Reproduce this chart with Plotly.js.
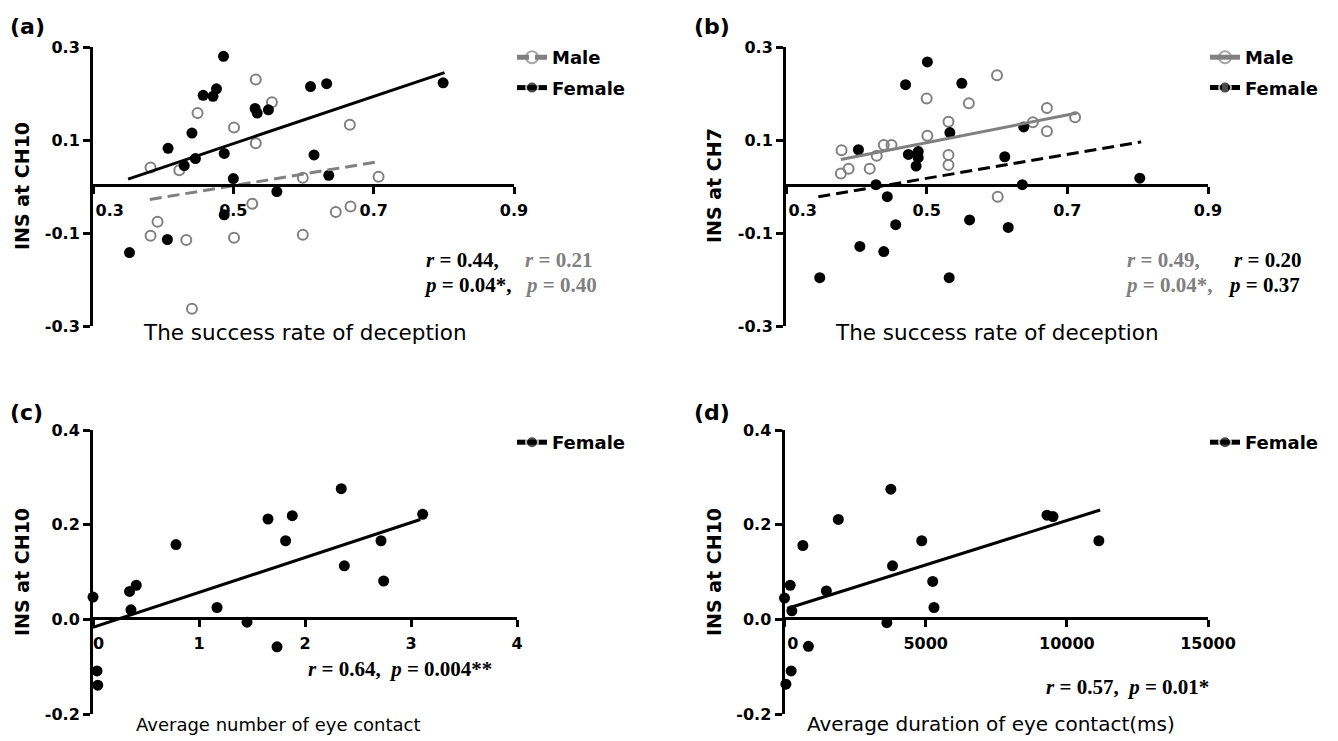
<!DOCTYPE html>
<html>
<head>
<meta charset="utf-8">
<script src="https://cdn.plot.ly/plotly-3.0.1.min.js"></script>
<style>html,body{margin:0;padding:0;background:#fff;}#chart{width:1338px;height:741px;}</style>
</head>
<body>
<div id="chart"></div>
<script>
// ---------- data ----------
// panel (a): success rate of deception vs INS at CH10
const aMaleX   = [0.532,0.555,0.449,0.501,0.666,0.532,0.382,0.423,0.599,0.707,0.527,0.392,0.667,0.646,0.382,0.433,0.501,0.599,0.441];
const aMaleY   = [0.230,0.181,0.158,0.127,0.133,0.093,0.041,0.035,0.019,0.021,-0.037,-0.076,-0.043,-0.055,-0.106,-0.115,-0.110,-0.104,-0.263];
const aFemaleX = [0.486,0.799,0.610,0.633,0.457,0.471,0.476,0.531,0.534,0.550,0.441,0.407,0.487,0.615,0.446,0.430,0.500,0.636,0.562,0.487,0.406,0.352];
const aFemaleY = [0.280,0.223,0.215,0.221,0.196,0.194,0.210,0.168,0.158,0.165,0.115,0.082,0.071,0.068,0.060,0.045,0.017,0.024,-0.011,-0.061,-0.114,-0.142];
const aFitMaleX = [0.381,0.709];
const aFitMaleY = [-0.028,0.054];
const aFitFemaleX = [0.350,0.801];
const aFitFemaleY = [0.016,0.245];

// panel (b): success rate of deception vs INS at CH7
const bMaleX   = [0.600,0.500,0.560,0.671,0.711,0.531,0.651,0.671,0.501,0.379,0.439,0.450,0.429,0.531,0.531,0.389,0.419,0.378,0.601];
const bMaleY   = [0.239,0.189,0.179,0.169,0.149,0.139,0.138,0.119,0.109,0.078,0.089,0.089,0.066,0.068,0.046,0.038,0.038,0.028,-0.022];
const bFemaleX = [0.501,0.470,0.550,0.533,0.638,0.403,0.474,0.488,0.488,0.485,0.611,0.428,0.636,0.803,0.444,0.456,0.561,0.616,0.405,0.439,0.348,0.532];
const bFemaleY = [0.268,0.219,0.222,0.116,0.128,0.079,0.069,0.075,0.062,0.044,0.064,0.004,0.004,0.018,-0.022,-0.082,-0.072,-0.088,-0.129,-0.140,-0.196,-0.196];
const bFitMaleX = [0.378,0.714];
const bFitMaleY = [0.058,0.158];
const bFitFemaleX = [0.346,0.805];
const bFitFemaleY = [-0.022,0.096];

// panel (c): average number of eye contact vs INS at CH10 (female)
const cX = [0.000,0.358,0.345,0.408,0.783,1.170,1.453,1.651,1.817,1.880,1.736,2.342,2.371,2.717,2.742,3.110,0.038,0.045];
const cY = [0.047,0.020,0.059,0.072,0.158,0.025,-0.006,0.212,0.166,0.219,-0.058,0.276,0.113,0.166,0.081,0.222,-0.109,-0.139];
const cFitX = [0,3.088];
const cFitY = [-0.017,0.211];

// panel (d): average duration of eye contact (ms) vs INS at CH10 (female)
const dX = [0,201,261,650,847,236,50,1483,1906,3766,3826,3625,4861,5249,5295,9298,9510,11134];
const dY = [0.045,0.072,0.018,0.156,-0.057,-0.109,-0.137,0.060,0.211,0.275,0.113,-0.007,0.166,0.080,0.025,0.220,0.217,0.166];
const dFitX = [95,11180];
const dFitY = [0.023,0.231];

// tick labels
const abXTicks = [0.3,0.5,0.7,0.9];
const abXLabels = ['0.3','0.5','0.7','0.9'];
const abYTicks = [-0.3,-0.1,0.1,0.3];
const abYLabels = ['-0.3','-0.1','0.1','0.3'];
const cXTicks = [0,1,2,3,4];
const cXLabels = ['0','1','2','3','4'];
const dXTicks = [0,5000,10000,15000];
const dXLabels = ['0','5000','10000','15000'];
const cdYTicks = [-0.2,0,0.2,0.4];
const cdYLabels = ['-0.2','0.0','0.2','0.4'];

// ---------- styling helpers ----------
const W = 1338, H = 741;
const GRAY = '#808080';
const px = v => v / W;
const py = v => 1 - v / H;
const NB = '\u00A0';

const tickFont = {family:'DejaVu Sans', size:16, color:'#000', weight:'bold'};
function xAxis(d0, d1, range, zeroPy, vals, labels, pad) {
  const lab = labels.slice();
  lab[0] = NB.repeat(pad) + lab[0];
  return {domain:[px(d0), px(d1)], range:range, anchor:'free', position:py(zeroPy),
    showline:true, linewidth:3, linecolor:'#000', ticks:'outside', ticklen:7, tickwidth:3,
    tickcolor:'#000', tickmode:'array', tickvals:vals, ticktext:lab, tickfont:tickFont,
    ticklabelstandoff:3, showgrid:false, zeroline:false, fixedrange:true};
}
function yAxis(anchor, t, b, range, vals, labels) {
  return {domain:[py(b), py(t)], range:range, anchor:anchor,
    showline:true, linewidth:3, linecolor:'#000', ticks:'outside', ticklen:7, tickwidth:3,
    tickcolor:'#000', tickmode:'array', tickvals:vals, ticktext:labels, tickfont:tickFont,
    showgrid:false, zeroline:false, fixedrange:true};
}

function pts(x, y, xa, ya, open) {
  return {x:x, y:y, xaxis:xa, yaxis:ya, type:'scatter', mode:'markers', showlegend:false,
    cliponaxis:false, hoverinfo:'x+y',
    marker: open ? {symbol:'circle-open', size:10, color:GRAY, line:{width:2, color:GRAY}}
                 : {symbol:'circle', size:11, color:'#000'}};
}
// fitted line; the tiny marker sizes keep markers off the plot but let the legend show them
function fit(x, y, xa, ya, name, color, dash, open, legend, group) {
  return {x:x, y:y, xaxis:xa, yaxis:ya, type:'scatter', mode:'lines+markers', name:name,
    legend:legend, legendgroup:group, cliponaxis:false, hoverinfo:'skip',
    line:{color:color, width:3, dash:dash},
    marker: open ? {symbol:'circle-open', size:[0.01,0.01], color:color, line:{width:2, color:color}}
                 : {symbol:'circle', size:[0.01,0.01], color:color}};
}

const traces = [
  pts(aMaleX, aMaleY, 'x', 'y', true),
  pts(aFemaleX, aFemaleY, 'x', 'y', false),
  fit(aFitMaleX, aFitMaleY, 'x', 'y', 'Male', GRAY, '12px,6px', true, 'legend', 'am'),
  fit(aFitFemaleX, aFitFemaleY, 'x', 'y', 'Female', '#000', 'solid', false, 'legend', 'af'),

  pts(bMaleX, bMaleY, 'x2', 'y2', true),
  pts(bFemaleX, bFemaleY, 'x2', 'y2', false),
  fit(bFitMaleX, bFitMaleY, 'x2', 'y2', 'Male', GRAY, 'solid', true, 'legend2', 'bm'),
  fit(bFitFemaleX, bFitFemaleY, 'x2', 'y2', 'Female', '#000', '12px,6px', false, 'legend2', 'bf'),

  pts(cX, cY, 'x3', 'y3', false),
  fit(cFitX, cFitY, 'x3', 'y3', 'Female', '#000', 'solid', false, 'legend3', 'cf'),

  pts(dX, dY, 'x4', 'y4', false),
  fit(dFitX, dFitY, 'x4', 'y4', 'Female', '#000', 'solid', false, 'legend4', 'df')
];

function legendAt(left, top) {
  return {x:px(left), y:py(top), xanchor:'left', yanchor:'top', bgcolor:'rgba(0,0,0,0)',
    borderwidth:0, itemsizing:'constant', traceorder:'grouped', tracegroupgap:4,
    font:{family:'DejaVu Sans', size:18, color:'#000', weight:'bold'}};
}

const serif = 'Liberation Serif';
function stat(text, left, yc, color) {
  return {text:text, x:px(left), y:py(yc), xref:'paper', yref:'paper', xanchor:'left', yanchor:'middle',
    showarrow:false, font:{family:serif, size:21, color:color}};
}
function label(text, left, yc) {
  return {text:text, x:px(left), y:py(yc), xref:'paper', yref:'paper', xanchor:'left', yanchor:'middle',
    showarrow:false, font:{family:'DejaVu Sans', size:22, color:'#000', weight:'bold'}};
}
function xTitle(text, cx, cy, size) {
  return {text:text, x:px(cx), y:py(cy), xref:'paper', yref:'paper', xanchor:'center', yanchor:'middle',
    showarrow:false, font:{family:'DejaVu Sans', size:size, color:'#000'}};
}
function yTitle(text, cx, cy) {
  return {text:text, x:px(cx), y:py(cy), xref:'paper', yref:'paper', xanchor:'center', yanchor:'middle',
    textangle:-90, showarrow:false, font:{family:'DejaVu Sans', size:19, color:'#000', weight:'bold'}};
}
const R = '<b><i>r</i> = ', P = '<b><i>p</i> = ';

const annotations = [
  label('(a)', 8, 26), label('(b)', 692, 26), label('(c)', 8, 412), label('(d)', 692, 412),
  yTitle('INS at CH10', 22, 186), yTitle('INS at CH7', 714, 186),
  yTitle('INS at CH10', 22, 572), yTitle('INS at CH10', 714, 572),
  xTitle('The success rate of deception', 305, 332, 21.5),
  xTitle('The success rate of deception', 997, 332, 21.5),
  xTitle('Average number of eye contact', 278, 724, 18),
  xTitle('Average duration of eye contact(ms)', 991, 724, 20),
  stat(R + '0.44,</b>', 424, 260, '#000'), stat(R + '0.21</b>', 523, 260, GRAY),
  stat(P + '0.04*,</b>', 422, 285, '#000'), stat(P + '0.40</b>', 523, 285, GRAY),
  stat(R + '0.49,</b>', 1125, 260, GRAY), stat(R + '0.20</b>', 1232, 260, '#000'),
  stat(P + '0.04*,</b>', 1123, 285, GRAY), stat(P + '0.37</b>', 1226, 285, '#000'),
  stat(R + '0.64,' + NB + NB + '</b>' + P + '0.004**</b>', 306, 669, '#000'),
  stat(R + '0.57,' + NB + NB + '</b>' + P + '0.01*</b>', 1044, 687, '#000')
];

const layout = {
  width:W, height:H, margin:{l:0, r:0, t:0, b:0}, paper_bgcolor:'#fff', plot_bgcolor:'#fff',
  showlegend:true,
  xaxis:  xAxis(93, 514, [0.3,0.9], 184.5, abXTicks, abXLabels, 6),
  yaxis:  yAxis('x', 47, 326, [-0.3,0.3], abYTicks, abYLabels),
  xaxis2: xAxis(786, 1208, [0.3,0.9], 184.5, abXTicks, abXLabels, 6),
  yaxis2: yAxis('x2', 47, 326, [-0.3,0.3], abYTicks, abYLabels),
  xaxis3: xAxis(93, 517, [0,4], 618, cXTicks, cXLabels, 2),
  yaxis3: yAxis('x3', 430, 714, [-0.2,0.4], cdYTicks, cdYLabels),
  xaxis4: xAxis(784.5, 1208, [0,15000], 618, dXTicks, dXLabels, 3),
  yaxis4: yAxis('x4', 430, 714, [-0.2,0.4], cdYTicks, cdYLabels),
  legend:  legendAt(512, 39),
  legend2: legendAt(1205, 39),
  legend3: legendAt(512, 424),
  legend4: legendAt(1205, 424),
  annotations: annotations
};

Plotly.newPlot('chart', traces, layout, {displayModeBar:false, staticPlot:true});
</script>
</body>
</html>
